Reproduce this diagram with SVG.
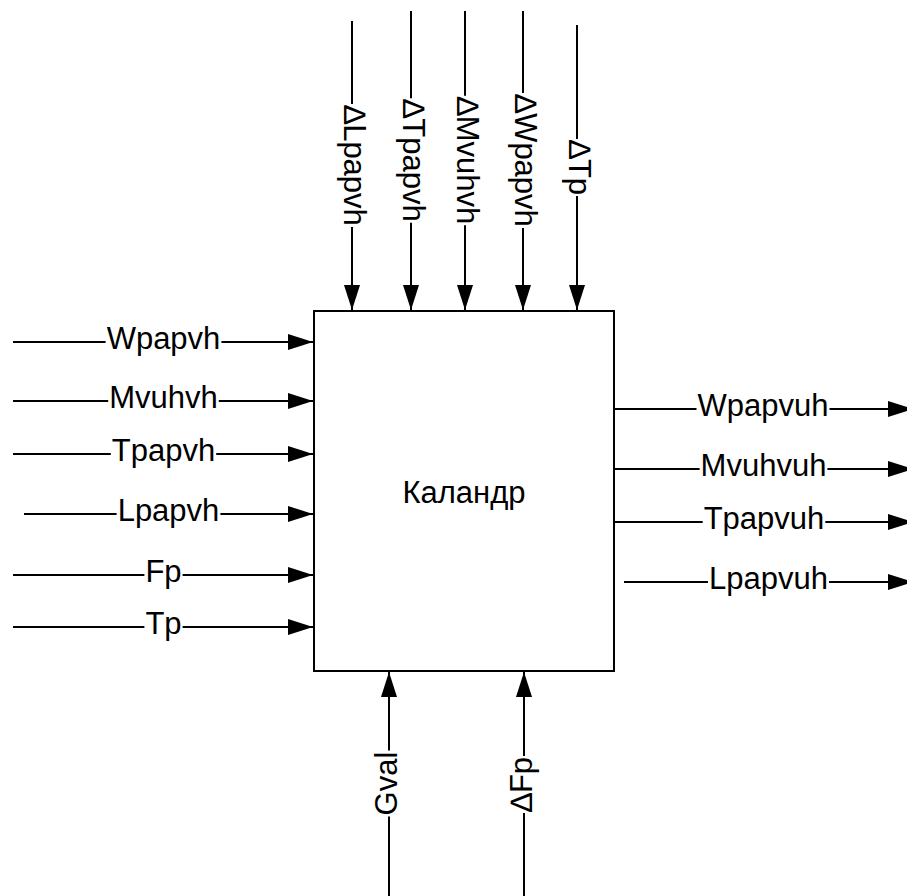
<svg xmlns="http://www.w3.org/2000/svg" width="907" height="896" viewBox="0 0 907 896">
<style>
.sg{stroke:#000;stroke-width:2;fill:none}
.ar{stroke:#000;stroke-width:2;fill:none;marker-end:url(#ah)}
.bx{stroke:#000;stroke-width:2;fill:#fff}
text{font-family:"Liberation Sans",Arial,sans-serif;font-size:31px;fill:#000;text-anchor:middle}
</style>
<defs>
<marker id="ah" markerUnits="userSpaceOnUse" markerWidth="25" markerHeight="16" viewBox="0 0 25 16" refX="25" refY="8" orient="auto">
<path d="M0,0 L25,8 L0,16 Z" fill="#000"/>
</marker>
</defs>
<rect width="907" height="896" fill="#fff"/>
<g id="kalandr">
<rect class="bx" x="314" y="311" width="300" height="360"/>
<text x="464" y="503">Каландр</text>
</g>
<g id="connectors">
<g id="in-wpapvh"><line class="sg" x1="13" y1="342" x2="105.6" y2="342"/><line class="ar" x1="221.4" y1="342" x2="313" y2="342"/><text x="163.5" y="349">Wpapvh</text></g>
<g id="in-mvuhvh"><line class="sg" x1="13" y1="401" x2="108.2" y2="401"/><line class="ar" x1="218.8" y1="401" x2="313" y2="401"/><text x="163.5" y="408">Mvuhvh</text></g>
<g id="in-tpapvh"><line class="sg" x1="13" y1="454" x2="110.8" y2="454"/><line class="ar" x1="216.2" y1="454" x2="313" y2="454"/><text x="163.5" y="461">Tpapvh</text></g>
<g id="in-lpapvh"><line class="sg" x1="24" y1="514" x2="116.6" y2="514"/><line class="ar" x1="220.4" y1="514" x2="313" y2="514"/><text x="168.5" y="521">Lpapvh</text></g>
<g id="in-fp"><line class="sg" x1="13" y1="575" x2="144.4" y2="575"/><line class="ar" x1="182.6" y1="575" x2="313" y2="575"/><text x="163.5" y="582">Fp</text></g>
<g id="in-tp"><line class="sg" x1="13" y1="627" x2="144.4" y2="627"/><line class="ar" x1="182.6" y1="627" x2="313" y2="627"/><text x="163.5" y="634">Tp</text></g>

<g id="out-wpapvuh"><line class="sg" x1="615" y1="409" x2="696.5" y2="409"/><line class="ar" x1="829.5" y1="409" x2="913" y2="409"/><text x="763" y="416">Wpapvuh</text></g>
<g id="out-mvuhvuh"><line class="sg" x1="615" y1="469" x2="699.6" y2="469"/><line class="ar" x1="827.4" y1="469" x2="913" y2="469"/><text x="763.5" y="476">Mvuhvuh</text></g>
<g id="out-tpapvuh"><line class="sg" x1="615" y1="522" x2="702.7" y2="522"/><line class="ar" x1="825.3" y1="522" x2="913" y2="522"/><text x="764" y="529">Tpapvuh</text></g>
<g id="out-lpapvuh"><line class="sg" x1="624" y1="582" x2="708" y2="582"/><line class="ar" x1="829" y1="582" x2="913" y2="582"/><text x="768.5" y="589">Lpapvuh</text></g>

<g id="top-dlpapvh"><line class="sg" x1="352" y1="21" x2="352" y2="104.1"/><line class="ar" x1="352" y1="226.9" x2="352" y2="310"/><text transform="translate(352,165.5) rotate(90)" x="0" y="8">∆Lpapvh</text></g>
<g id="top-dtpapvh"><line class="sg" x1="411" y1="11" x2="411" y2="98.3"/><line class="ar" x1="411" y1="222.7" x2="411" y2="310"/><text transform="translate(411,160.5) rotate(90)" x="0" y="8">∆Tpapvh</text></g>
<g id="top-dmvuhvh"><line class="sg" x1="465" y1="11" x2="465" y2="95.7"/><line class="ar" x1="465" y1="225.3" x2="465" y2="310"/><text transform="translate(465,160.5) rotate(90)" x="0" y="8">∆Mvuhvh</text></g>
<g id="top-dwpapvh"><line class="sg" x1="523" y1="11" x2="523" y2="93.1"/><line class="ar" x1="523" y1="227.9" x2="523" y2="310"/><text transform="translate(523,160.5) rotate(90)" x="0" y="8">∆Wpapvh</text></g>
<g id="top-dtp"><line class="sg" x1="577" y1="25" x2="577" y2="138.9"/><line class="ar" x1="577" y1="196.1" x2="577" y2="310"/><text transform="translate(577,167.5) rotate(90)" x="0" y="8">∆Tp</text></g>

<g id="bot-gval"><line class="sg" x1="389" y1="896" x2="389" y2="816.4"/><line class="ar" x1="389" y1="750.6" x2="389" y2="672"/><text transform="translate(389,783.5) rotate(-90)" x="0" y="8">Gval</text></g>
<g id="bot-dfp"><line class="sg" x1="524" y1="896" x2="524" y2="813.1"/><line class="ar" x1="524" y1="755.9" x2="524" y2="672"/><text transform="translate(524,784.5) rotate(-90)" x="0" y="8">∆Fp</text></g>
</g>
</svg>
